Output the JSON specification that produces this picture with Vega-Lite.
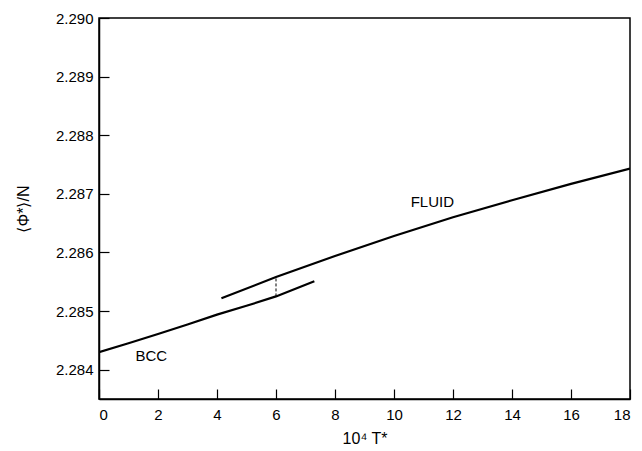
{
  "$schema": "https://vega.github.io/schema/vega-lite/v6.json",
  "autosize": "none",
  "width": 531,
  "height": 381,
  "padding": {"left": 99, "top": 18, "right": 12, "bottom": 52},
  "background": "white",
  "config": {
    "view": {"stroke": "black", "strokeWidth": 1.5},
    "font": "Liberation Sans",
    "axis": {
      "grid": false,
      "domainColor": "black",
      "domainWidth": 1.5,
      "tickColor": "black",
      "tickWidth": 1.2,
      "tickSize": -10,
      "labelColor": "black",
      "labelFontSize": 15,
      "labelFont": "Liberation Sans",
      "titleColor": "black",
      "titleFont": "Liberation Sans",
      "titleFontSize": 16,
      "titleFontWeight": "normal"
    }
  },
  "datasets": {
    "curves": [
      {"series": "BCC", "t": 0, "phi": 2.2843},
      {"series": "BCC", "t": 1, "phi": 2.28445},
      {"series": "BCC", "t": 2, "phi": 2.28461},
      {"series": "BCC", "t": 3, "phi": 2.28477},
      {"series": "BCC", "t": 4, "phi": 2.28494},
      {"series": "BCC", "t": 5, "phi": 2.28509},
      {"series": "BCC", "t": 6, "phi": 2.28525},
      {"series": "BCC", "t": 7.3, "phi": 2.28551},
      {"series": "FLUID", "t": 4.15, "phi": 2.28522},
      {"series": "FLUID", "t": 6, "phi": 2.28558},
      {"series": "FLUID", "t": 8, "phi": 2.28594},
      {"series": "FLUID", "t": 10, "phi": 2.28628},
      {"series": "FLUID", "t": 12, "phi": 2.2866},
      {"series": "FLUID", "t": 14, "phi": 2.28689},
      {"series": "FLUID", "t": 16, "phi": 2.28717},
      {"series": "FLUID", "t": 18, "phi": 2.28743}
    ],
    "gap": [{"t": 6, "lo": 2.28525, "hi": 2.28558}],
    "labels": [
      {"label": "BCC", "t": 1.77, "phi": 2.28424},
      {"label": "FLUID", "t": 11.3, "phi": 2.28686}
    ]
  },
  "layer": [
    {
      "data": {"name": "curves"},
      "mark": {"type": "line", "color": "black", "strokeWidth": 2.2, "clip": true},
      "encoding": {
        "x": {
          "field": "t", "type": "quantitative",
          "scale": {"domain": [0, 18], "nice": false, "zero": false},
          "axis": {"values": [0, 2, 4, 6, 8, 10, 12, 14, 16, 18], "title": "10⁴ T*", "labelPadding": 18, "titlePadding": 8}
        },
        "y": {
          "field": "phi", "type": "quantitative",
          "scale": {"domain": [2.2835, 2.29], "nice": false, "zero": false},
          "axis": {"values": [2.284, 2.285, 2.286, 2.287, 2.288, 2.289, 2.29], "format": ".3f", "title": "⟨Φ*⟩/N", "labelPadding": 16, "titlePadding": 24}
        },
        "detail": {"field": "series"}
      }
    },
    {
      "data": {"name": "gap"},
      "mark": {"type": "rule", "color": "black", "strokeWidth": 1, "strokeDash": [3, 2]},
      "encoding": {
        "x": {"field": "t", "type": "quantitative"},
        "y": {"field": "lo", "type": "quantitative"},
        "y2": {"field": "hi"}
      }
    },
    {
      "data": {"name": "labels"},
      "mark": {"type": "text", "color": "black", "fontSize": 15, "font": "Liberation Sans", "align": "center", "baseline": "middle"},
      "encoding": {
        "x": {"field": "t", "type": "quantitative"},
        "y": {"field": "phi", "type": "quantitative"},
        "text": {"field": "label"}
      }
    }
  ]
}
